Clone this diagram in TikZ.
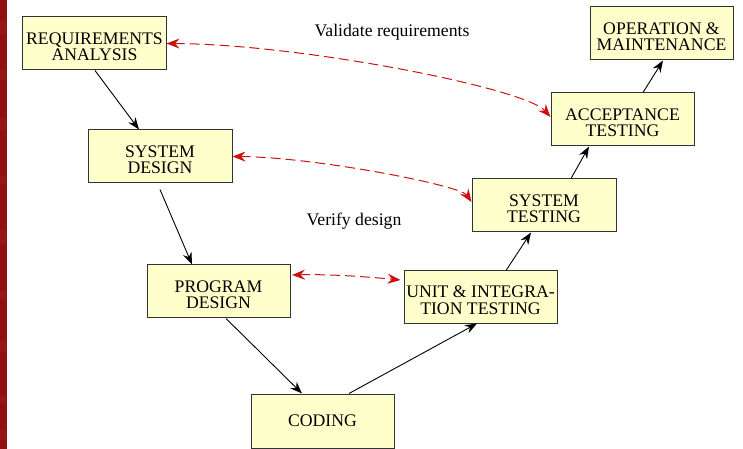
\documentclass[tikz,border=0pt]{standalone}
\usepackage{fontspec}
\setmainfont{Liberation Serif}
\usetikzlibrary{arrows.meta}
\definecolor{boxfill}{HTML}{FFFFCC}
\definecolor{boxline}{HTML}{333333}
\definecolor{checkred}{HTML}{CC1111}
\definecolor{stripred}{HTML}{8E1010}
\definecolor{stripredlight}{HTML}{A32424}
% taller first line, so two-line captions sit slightly low in their boxes
\newcommand\firstline{\rule{0pt}{18bp}}
\begin{document}
\begin{tikzpicture}[x=1bp,y=-1bp,
  txt/.style={font=\fontsize{17.7bp}{16.2bp}\selectfont},
  stage/.style={txt, draw=boxline, fill=boxfill, line width=1bp,
    minimum width=143bp, minimum height=53bp, inner sep=0pt, align=center},
  flow/.style={-{Stealth[length=12bp,width=9bp,inset=4bp]}, line width=0.9bp, black},
  check/.style={{Stealth[length=13bp,width=10bp,inset=4.5bp]}-{Stealth[length=13bp,width=10bp,inset=4.5bp]},
    draw=checkred, line width=1bp, dash pattern=on 10bp off 5bp}]
\useasboundingbox (0,0) rectangle (743,449);
\fill[white] (0,0) rectangle (743,449);
% textured strip on the left edge
\fill[stripred] (0,0) rectangle (7,449);
\foreach \y/\h in {20/14, 70/9, 118/12, 175/8, 230/15, 290/10, 340/12, 395/9, 430/11}
  \fill[stripredlight, opacity=0.3] (0,\y) rectangle (7,\y+\h);

% life-cycle stages
\node[stage] (ra) at (94.5,43.5)  {\firstline REQUIREMENTS\\ANALYSIS};
\node[stage, minimum width=144bp] (sd) at (160,156.5) {\firstline SYSTEM\\DESIGN};
\node[stage] (pd) at (218.5,291.5) {\firstline PROGRAM\\DESIGN};
\node[stage, minimum height=54bp] (cd) at (322.5,421) {CODING};
\node[stage, minimum width=153bp, minimum height=52bp] (ut) at (480.5,297) {\firstline UNIT \& INTEGRA-\\TION TESTING};
\node[stage, minimum width=144bp] (st) at (544,205.5) {\firstline SYSTEM\\TESTING};
\node[stage] (at) at (622.5,119.5) {\firstline ACCEPTANCE\\TESTING};
\node[stage] (om) at (661.5,33.5) {\firstline OPERATION \&\\MAINTENANCE};

% labels
\node[txt] (lv) at (392,32) {Validate requirements};
\node[txt] (ld) at (354,221) {Verify design};

% flow between stages
\draw[flow] ([xshift=0.5bp]ra.south) -- ([xshift=-21bp]sd.north);
\draw[flow] ([yshift=-6bp]sd.south) -- ([xshift=-26.5bp]pd.north);
\draw[flow] ([xshift=7.5bp]pd.south) -- ([xshift=-20.5bp]cd.north);
\draw[flow] ([xshift=26.5bp]cd.north) -- ([xshift=-3.5bp]ut.south);
\draw[flow] ([xshift=25.5bp]ut.north) -- ([xshift=-13bp]st.south);
\draw[flow] ([xshift=27bp]st.north) -- ([xshift=-33.5bp]at.south);
\draw[flow] ([xshift=20.5bp]at.north) -- ([xshift=1.5bp]om.south);

% validation and verification links
\draw[check] (ra.east) .. controls (300,44) and (525,88) .. ([yshift=2.5bp]at.west);
\draw[check] (sd.east) .. controls (313,157) and (460,185) .. ([yshift=3.5bp]st.west);
\draw[check] ([xshift=1.5bp,yshift=16.5bp]pd.east) .. controls (330,274) and (370,277) .. ([xshift=-3bp,yshift=17bp]ut.west);
\end{tikzpicture}
\end{document}
